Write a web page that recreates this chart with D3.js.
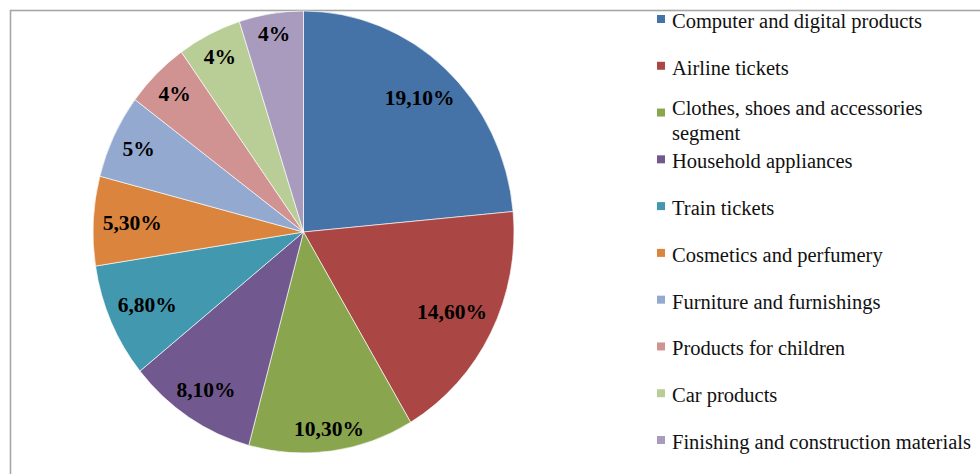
<!DOCTYPE html>
<html>
<head>
<meta charset="utf-8">
<script src="https://cdn.jsdelivr.net/npm/d3@7"></script>
<style>
  html, body { margin: 0; padding: 0; background: #fff; overflow: hidden; }
  svg { display: block; }
</style>
</head>
<body>
<svg id="chart"></svg>
<script>
const WIDTH = 980;
const HEIGHT = 474;

// data
const categories = [
  'Computer and digital products',
  'Airline tickets',
  'Clothes, shoes and accessories\nsegment',
  'Household appliances',
  'Train tickets',
  'Cosmetics and perfumery',
  'Furniture and furnishings',
  'Products for children',
  'Car products',
  'Finishing and construction materials'
];
const values = [19.1, 14.6, 10.3, 8.1, 6.8, 5.3, 5, 4, 4, 4];
const valueLabels = ['19,10%', '14,60%', '10,30%', '8,10%', '6,80%', '5,30%', '5%', '4%', '4%', '4%'];
const colors = ['#4572A7', '#AA4643', '#89A54E', '#71588F', '#4198AF',
                '#DB843D', '#93A9CF', '#D19392', '#B9CD96', '#A99BBD'];

// layout
const CX = 303.5, CY = 232;
const RX = 210.5, RY = 221;
const LABEL_SIZE = 21.5;

const svg = d3.select('#chart')
  .attr('width', WIDTH)
  .attr('height', HEIGHT);

// frame
svg.append('rect')
  .attr('x', 10.5)
  .attr('y', 10.5)
  .attr('width', 1200)
  .attr('height', 1200)
  .attr('fill', 'none')
  .attr('stroke', '#a6a6a6')
  .attr('stroke-width', 1.6);

const data = categories.map((c, i) => ({
  name: c,
  value: values[i],
  label: valueLabels[i],
  color: colors[i]
}));

const pie = d3.pie()
  .sort(null)
  .value(d => d.value);

const arcs = pie(data);

const arc = d3.arc()
  .innerRadius(0)
  .outerRadius(RX);

const color = d3.scaleOrdinal()
  .domain(categories)
  .range(colors);

// the pie is slightly taller than wide, so squash a circle into an ellipse
const pieG = svg.append('g')
  .attr('transform', `translate(${CX}, ${CY}) scale(1, ${RY / RX})`);

pieG.selectAll('path')
  .data(arcs)
  .enter()
  .append('path')
  .attr('d', arc)
  .attr('fill', d => color(d.data.name))
  .attr('stroke', '#ffffff')
  .attr('stroke-width', 0.8)
  .attr('stroke-opacity', 0.8)
  .attr('vector-effect', 'non-scaling-stroke');

// value labels, pushed out towards the rim like excel's "inside end"
const labelG = svg.append('g')
  .attr('transform', `translate(${CX}, ${CY})`);

labelG.selectAll('text')
  .data(arcs)
  .enter()
  .append('text')
  .attr('text-anchor', 'middle')
  .style('font-family', '"Liberation Serif", "Times New Roman", serif')
  .style('font-weight', 'bold')
  .style('font-size', LABEL_SIZE + 'px')
  .style('fill', '#000')
  .text(d => d.data.label)
  .each(function(d) {
    const a = (d.startAngle + d.endAngle) / 2;
    const px = RX * Math.sin(a);
    const py = -RY * Math.cos(a);
    const R = Math.hypot(px, py);
    const ux = px / R, uy = py / R;
    const hw = this.getComputedTextLength() / 2;
    const hh = LABEL_SIZE * 0.44;
    const dist = R - 9 - (hw * Math.abs(ux) + hh * Math.abs(uy));
    d3.select(this)
      .attr('x', ux * dist)
      .attr('y', uy * dist + LABEL_SIZE * 0.34);
  });

// legend
const legendY = d3.scalePoint()
  .domain(categories)
  .range([28, 449]);

const legend = svg.append('g')
  .attr('class', 'legend');

const item = legend.selectAll('g')
  .data(data)
  .enter()
  .append('g')
  .attr('transform', d => `translate(0, ${legendY(d.name)})`);

item.append('rect')
  .attr('x', 657)
  .attr('y', -13)
  .attr('width', 8)
  .attr('height', 8)
  .attr('fill', d => d.color);

item.append('text')
  .style('font-family', '"Liberation Serif", "Times New Roman", serif')
  .style('font-size', '20.5px')
  .style('fill', '#111')
  .each(function(d) {
    const lines = d.name.split('\n');
    const start = lines.length > 1 ? -7 : 0;
    d3.select(this).selectAll('tspan')
      .data(lines)
      .enter()
      .append('tspan')
      .attr('x', 672)
      .attr('y', (l, i) => start + i * 25)
      .text(l => l);
  });
</script>
</body>
</html>
